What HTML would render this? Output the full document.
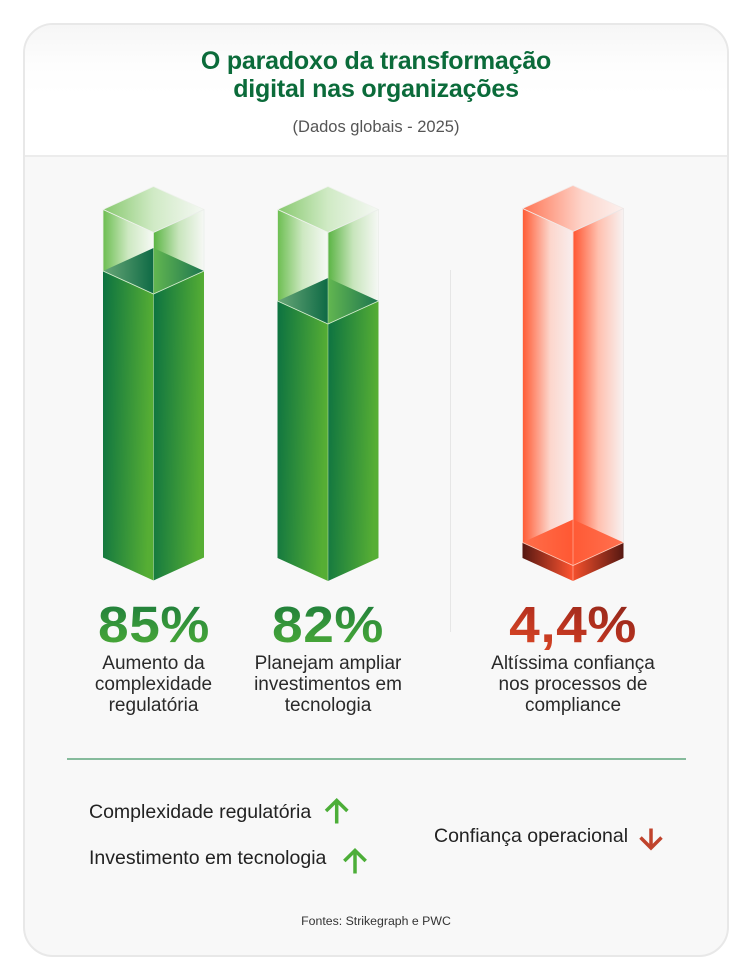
<!DOCTYPE html>
<html>
<head>
<meta charset="utf-8">
<style>
  html,body{margin:0;padding:0;}
  body{width:752px;height:980px;background:#ffffff;position:relative;overflow:hidden;font-family:"Liberation Sans",sans-serif;}
  .card{position:absolute;left:23px;top:23px;width:702px;height:930px;border:2px solid #e8e8e8;border-radius:30px;background:#f8f8f8;overflow:hidden;}
  .head{position:absolute;left:0;top:0;width:702px;height:130px;background:linear-gradient(#f6f6f6 0px,#fdfdfd 40px,#ffffff 70px);border-bottom:2px solid #ececec;}
  .t{position:absolute;left:0;width:752px;text-align:center;}
  .title{top:47px;font-size:25px;line-height:28px;font-weight:bold;color:#0b6b3a;letter-spacing:-0.2px;}
  .sub{top:117px;font-size:16.5px;line-height:20px;color:#555;}
  .num{position:absolute;width:200px;text-align:center;font-size:51px;line-height:51px;font-weight:bold;letter-spacing:0.5px;
       -webkit-background-clip:text;background-clip:text;color:transparent;transform:scaleX(1.08);transform-origin:50% 50%;}
  .g{background-image:linear-gradient(180deg,#1b7a3b 0%,#3a9a3a 60%,#4caa36 100%);}
  .r{background-image:linear-gradient(200deg,#7a2018 0%,#b8321f 50%,#ea5128 100%);}
  .lab{position:absolute;width:200px;text-align:center;font-size:19px;line-height:21px;color:#2a2a2a;}
  .leg{position:absolute;font-size:19.5px;line-height:22px;color:#222;white-space:nowrap;}
  .src{position:absolute;left:0;width:752px;text-align:center;top:914px;font-size:12.3px;line-height:15px;color:#333;}
</style>
</head>
<body>
<div class="card"><div class="head"></div></div>

<div class="t title">O paradoxo da transformação<br>digital nas organizações</div>
<div class="t sub">(Dados globais - 2025)</div>

<svg width="752" height="980" style="position:absolute;left:0;top:0" xmlns="http://www.w3.org/2000/svg">
  <defs>
    <linearGradient id="gs" x1="0" y1="0" x2="1" y2="0.15">
      <stop offset="0" stop-color="#0c7241"/><stop offset="1" stop-color="#56ae34"/>
    </linearGradient>
    <linearGradient id="ggl" x1="0" y1="0" x2="1" y2="0">
      <stop offset="0" stop-color="#6cbe51"/><stop offset="0.5" stop-color="#cde8c1"/><stop offset="1" stop-color="#f6f9f5"/>
    </linearGradient>
    <linearGradient id="ggr" x1="0" y1="0" x2="1" y2="0">
      <stop offset="0" stop-color="#5ab443"/><stop offset="0.5" stop-color="#c8e5bc"/><stop offset="1" stop-color="#f6f8f5"/>
    </linearGradient>
    <linearGradient id="ggt" x1="0" y1="0" x2="1" y2="0">
      <stop offset="0" stop-color="#86c86d"/><stop offset="0.5" stop-color="#d0eac5"/><stop offset="1" stop-color="#f5f8f4"/>
    </linearGradient>
    <linearGradient id="gfl" x1="0" y1="0" x2="1" y2="0">
      <stop offset="0" stop-color="#6aa878"/><stop offset="1" stop-color="#0e6a45"/>
    </linearGradient>
    <linearGradient id="gfr" x1="0" y1="0" x2="1" y2="0">
      <stop offset="0" stop-color="#62b650"/><stop offset="1" stop-color="#1d7550"/>
    </linearGradient>
    <linearGradient id="rgl" x1="0" y1="0" x2="1" y2="0">
      <stop offset="0" stop-color="#ff5a33"/><stop offset="0.55" stop-color="#fcd6cc"/><stop offset="1" stop-color="#f8eeee"/>
    </linearGradient>
    <linearGradient id="rgr" x1="0" y1="0" x2="1" y2="0">
      <stop offset="0" stop-color="#ff5530"/><stop offset="0.5" stop-color="#ffbfae"/><stop offset="1" stop-color="#f7f2f2"/>
    </linearGradient>
    <linearGradient id="rgt" x1="0" y1="0" x2="1" y2="0">
      <stop offset="0" stop-color="#ff7453"/><stop offset="0.6" stop-color="#fdd6cc"/><stop offset="1" stop-color="#fbf1ef"/>
    </linearGradient>
    <linearGradient id="rfl" x1="0" y1="0" x2="1" y2="0">
      <stop offset="0" stop-color="#ff6e4a"/><stop offset="1" stop-color="#ff5833"/>
    </linearGradient>
    <linearGradient id="rfr" x1="0" y1="0" x2="1" y2="0">
      <stop offset="0" stop-color="#ff5a35"/><stop offset="1" stop-color="#ff7150"/>
    </linearGradient>
    <linearGradient id="rsl" x1="0" y1="0" x2="1" y2="0">
      <stop offset="0" stop-color="#561812"/><stop offset="1" stop-color="#ff5430"/>
    </linearGradient>
    <linearGradient id="rsr" x1="0" y1="0" x2="1" y2="0">
      <stop offset="0" stop-color="#f5502c"/><stop offset="1" stop-color="#561812"/>
    </linearGradient>
  </defs>

  <line x1="450.5" y1="270" x2="450.5" y2="632" stroke="#e6e6e6" stroke-width="1"/>

  <g stroke-linejoin="round">
    <polygon points="103,209.5 153.5,186.5 204,209.5 153.5,232.5" fill="url(#ggt)" stroke="#eef2ec" stroke-width="0.8"/>
    <polygon points="103,209.5 153.5,232.5 153.5,294 103,271" fill="url(#ggl)" stroke="#eef2ec" stroke-width="0.8"/>
    <polygon points="153.5,232.5 204,209.5 204,271 153.5,294" fill="url(#ggr)" stroke="#eaeeea" stroke-width="0.8"/>
    <polygon points="103,271 153.5,248 153.5,294" fill="url(#gfl)"/>
    <polygon points="153.5,248 204,271 153.5,294" fill="url(#gfr)"/>
    <polygon points="103,271 153.5,294 153.5,580.5 103,557.5" fill="url(#gs)"/>
    <polygon points="153.5,294 204,271 204,557.5 153.5,580.5" fill="url(#gs)"/>
    <polyline points="103,271 153.5,294 204,271" fill="none" stroke="#d8efd0" stroke-width="0.9"/>
    <line x1="153.5" y1="232.5" x2="153.5" y2="580.5" stroke="#c9e8bd" stroke-width="0.7" opacity="0.7"/>
  </g>

  <g stroke-linejoin="round">
    <polygon points="277.5,209.5 328,186.5 378.5,209.5 328,232.5" fill="url(#ggt)" stroke="#eef2ec" stroke-width="0.8"/>
    <polygon points="277.5,209.5 328,232.5 328,324 277.5,301" fill="url(#ggl)" stroke="#eef2ec" stroke-width="0.8"/>
    <polygon points="328,232.5 378.5,209.5 378.5,301 328,324" fill="url(#ggr)" stroke="#eaeeea" stroke-width="0.8"/>
    <polygon points="277.5,301 328,278 328,324" fill="url(#gfl)"/>
    <polygon points="328,278 378.5,301 328,324" fill="url(#gfr)"/>
    <polygon points="277.5,301 328,324 328,581 277.5,558" fill="url(#gs)"/>
    <polygon points="328,324 378.5,301 378.5,558 328,581" fill="url(#gs)"/>
    <polyline points="277.5,301 328,324 378.5,301" fill="none" stroke="#d8efd0" stroke-width="0.9"/>
    <line x1="328" y1="232.5" x2="328" y2="581" stroke="#c9e8bd" stroke-width="0.7" opacity="0.7"/>
  </g>

  <g stroke-linejoin="round">
    <polygon points="522.5,208.5 573,185.5 623.5,208.5 573,231.5" fill="url(#rgt)" stroke="#f3e9e7" stroke-width="0.8"/>
    <polygon points="522.5,208.5 573,231.5 573,565.5 522.5,542.5" fill="url(#rgl)" stroke="#f3e9e7" stroke-width="0.8"/>
    <polygon points="573,231.5 623.5,208.5 623.5,542.5 573,565.5" fill="url(#rgr)" stroke="#ebe6e6" stroke-width="0.8"/>
    <polygon points="522.5,542.5 573,519.5 573,565.5" fill="url(#rfl)"/>
    <polygon points="573,519.5 623.5,542.5 573,565.5" fill="url(#rfr)"/>
    <polygon points="522.5,542.5 573,565.5 573,581 522.5,558" fill="url(#rsl)"/>
    <polygon points="573,565.5 623.5,542.5 623.5,558 573,581" fill="url(#rsr)"/>
    <polyline points="522.5,542.5 573,565.5 623.5,542.5" fill="none" stroke="#ffc9b8" stroke-width="0.9"/>
    <line x1="573" y1="231.5" x2="573" y2="581" stroke="#ffd3c6" stroke-width="0.7" opacity="0.7"/>
  </g>

  <line x1="67" y1="759" x2="686" y2="759" stroke="#86bb9c" stroke-width="2"/>

  <g fill="none" stroke="#4cae38" stroke-width="3.5" stroke-linecap="butt" stroke-linejoin="miter">
    <line x1="336.7" y1="823.5" x2="336.7" y2="801.5"/>
    <polyline points="326,811 336.7,800.5 347.4,811"/>
    <line x1="355" y1="873.5" x2="355" y2="851.5"/>
    <polyline points="344.3,861 355,850.5 365.7,861"/>
  </g>
  <g fill="none" stroke="#c0432c" stroke-width="3.5" stroke-linecap="butt" stroke-linejoin="miter">
    <line x1="651" y1="828.5" x2="651" y2="846"/>
    <polyline points="640.5,837.5 651,848 661.5,837.5"/>
  </g>
</svg>

<div class="num g" style="left:53.5px;top:599px;">85%</div>
<div class="num g" style="left:228px;top:599px;">82%</div>
<div class="num r" style="left:473px;top:599px;">4,4%</div>

<div class="lab" style="left:53.5px;top:653px;">Aumento da<br>complexidade<br>regulatória</div>
<div class="lab" style="left:228px;top:653px;">Planejam ampliar<br>investimentos em<br>tecnologia</div>
<div class="lab" style="left:473px;top:653px;">Altíssima confiança<br>nos processos de<br>compliance</div>

<div class="leg" style="left:89px;top:800.5px;">Complexidade regulatória</div>
<div class="leg" style="left:89px;top:847px;">Investimento em tecnologia</div>
<div class="leg" style="left:434px;top:825px;">Confiança operacional</div>

<div class="src">Fontes: Strikegraph e PWC</div>
</body>
</html>
